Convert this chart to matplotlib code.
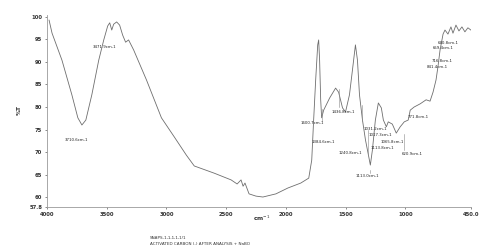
"""FTIR transmittance spectrum, activated carbon sample."""

import matplotlib

matplotlib.use("Agg")

import matplotlib.pyplot as plt

# spectrum (wavenumber, %T)
wavenumber = [
    3983, 3958, 3875, 3792, 3742, 3708, 3675, 3625, 3567, 3525, 3492, 3475,
    3458, 3442, 3417, 3392, 3367, 3342, 3317, 3275, 3167, 3042, 2933, 2833,
    2767, 2600, 2458, 2408, 2375, 2358, 2342, 2308, 2250, 2192, 2083, 1983,
    1875, 1808, 1783, 1767, 1750, 1733, 1725, 1717, 1708, 1700, 1683, 1633,
    1583, 1558, 1525, 1500, 1467, 1442, 1417, 1400, 1383, 1358, 1333, 1308,
    1292, 1275, 1250, 1225, 1200, 1183, 1158, 1142, 1108, 1075, 1042, 1008,
    975, 958, 925, 875, 825, 792, 767, 742, 725, 708, 683, 667, 642, 617,
    600, 575, 550, 525, 500, 475, 450,
]
transmittance = [
    99.3, 96.4, 90.4, 82.7, 77.6, 76.0, 77.1, 82.7, 90.4, 94.9, 98.0, 98.7,
    97.1, 98.4, 98.9, 98.2, 96.0, 94.4, 94.9, 92.7, 86.0, 77.6, 73.3, 69.3,
    66.9, 65.3, 63.8, 62.9, 63.8, 62.4, 63.1, 60.7, 60.2, 60.0, 60.7, 62.0,
    63.1, 64.2, 68.2, 77.1, 86.0, 93.8, 94.9, 90.4, 81.6, 77.6, 79.3, 82.0,
    84.2, 83.3, 79.8, 78.9, 82.7, 88.2, 93.8, 90.4, 82.7, 77.1, 72.7, 69.3,
    67.1, 70.4, 77.1, 80.9, 79.8, 77.1, 75.6, 76.7, 76.2, 74.2, 75.6, 76.7,
    77.1, 79.3, 80.0, 80.7, 81.6, 81.3, 83.3, 86.0, 89.1, 92.7, 96.2, 97.1,
    96.2, 97.8, 96.4, 98.2, 96.9, 97.8, 96.7, 97.6, 97.1,
]

# peak labels: text, wavenumber, %T
peak_labels = [
    "3710.6cm-1", "3471.9cm-1", "1600.7cm-1", "1436.8cm-1", "1384.6cm-1",
    "1031.2cm-1", "1017.3cm-1", "1065.8cm-1", "1113.8cm-1", "1240.8cm-1",
    "620.9cm-1", "1113.0cm-1", "771.8cm-1", "640.8cm-1", "659.4cm-1",
    "716.8cm-1", "841.4cm-1",
]
peak_x = [3750, 3517, 1775, 1517, 1683, 1250, 1208, 1108, 1192, 1458,
          942, 1317, 892, 642, 683, 692, 733]
peak_y = [72.7, 93.3, 76.4, 78.9, 72.2, 75.1, 73.8, 72.2, 70.9, 69.8,
          69.6, 64.7, 77.8, 94.2, 93.1, 90.2, 88.9]

# short vertical leader lines under/over some labels: wavenumber, %T from, %T to
leader_x = [1700, 1558, 1358, 1308, 1292, 1008]
leader_y0 = [79.5, 80.0, 80.5, 75.0, 66.0, 74.0]
leader_y1 = [77.0, 84.0, 77.0, 69.3, 65.3, 70.5]

x_ticks = [4000, 3500, 3000, 2500, 2000, 1500, 1000, 450]
x_tick_labels = ["4000", "3500", "3000", "2500", "2000", "1500", "1000", "450.0"]
y_ticks = [57.8, 60, 65, 70, 75, 80, 85, 90, 95, 100]
y_tick_labels = ["57.8", "60", "65", "70", "75", "80", "85", "90", "95", "100"]


def main() -> None:
    fig = plt.figure(figsize=(4.8, 2.49), dpi=100)
    ax = fig.add_axes([0.098, 0.169, 0.883, 0.77])

    ax.plot(wavenumber, transmittance, color="#6e6e6e", linewidth=0.6)
    for x, y0, y1 in zip(leader_x, leader_y0, leader_y1):
        ax.plot([x, x], [y0, y1], color="#8a8a8a", linewidth=0.4)
    for text, x, y in zip(peak_labels, peak_x, peak_y):
        ax.text(x, y, text, fontsize=2.8, color="#222222",
                ha="center", va="center")

    ax.set_xlim(4000, 450)
    ax.set_ylim(57.8, 100.4)
    ax.set_xticks(x_ticks)
    ax.set_xticklabels(x_tick_labels, fontweight="bold")
    ax.set_yticks(y_ticks)
    ax.set_yticklabels(y_tick_labels, fontweight="bold")
    ax.tick_params(labelsize=3.8, colors="#333333", length=1.5, width=0.4,
                   pad=2)

    for side in ("top", "right"):
        ax.spines[side].set_visible(False)
    for side in ("left", "bottom"):
        ax.spines[side].set_color("#9a9a9a")
        ax.spines[side].set_linewidth(0.6)

    fig.text(0.04, 0.56, "%T", fontsize=4.2, color="#333333",
             fontweight="bold", rotation=90, ha="center", va="center")
    fig.text(0.545, 0.122, "cm$^{-1}$", fontsize=4.2, color="#333333",
             fontweight="bold", ha="center", va="center")
    fig.text(0.3125, 0.044, "SNAPS-1,1,1,1,1/1", fontsize=3,
             color="#333333", va="center")
    fig.text(0.3125, 0.02, "ACTIVATED CARBON (-) AFTER ANALYSIS + NaBO",
             fontsize=3, color="#333333", va="center")

    fig.savefig("out.png", dpi=100)
    plt.close(fig)


if __name__ == "__main__":
    main()
